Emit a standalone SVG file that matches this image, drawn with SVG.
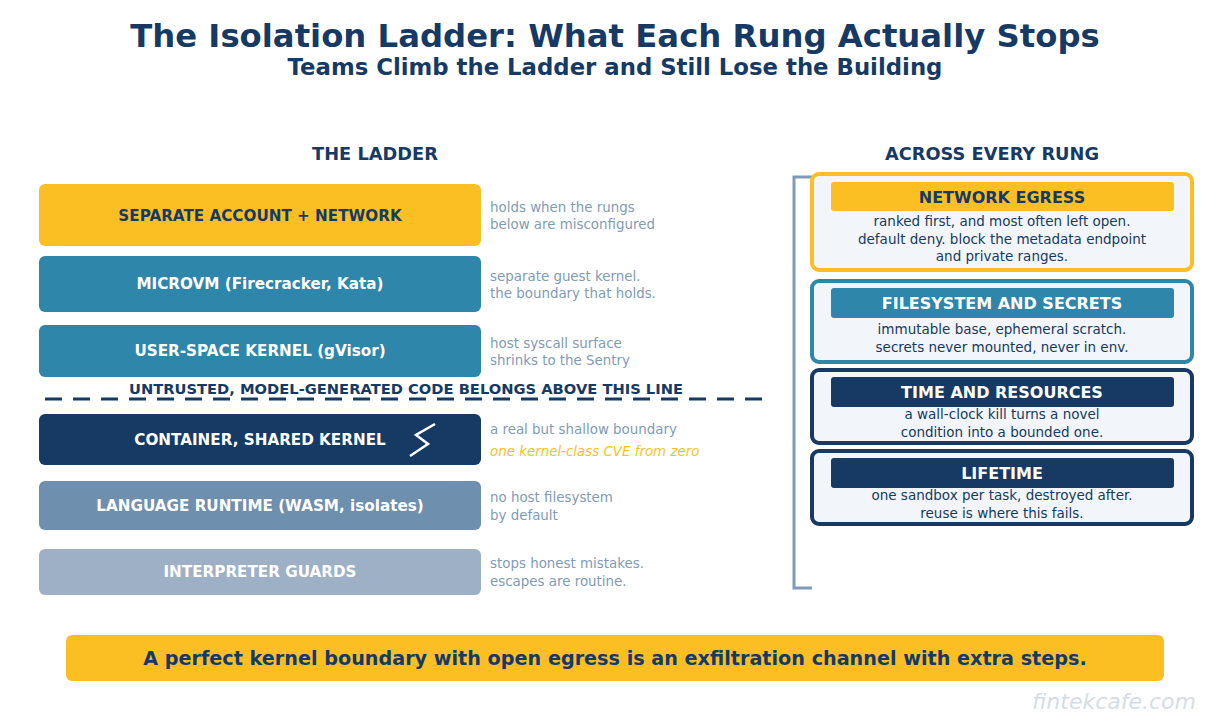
<svg xmlns="http://www.w3.org/2000/svg" width="1230" height="727" viewBox="0 0 1230 727">
<style>
text{font-family:"DejaVu Sans",sans-serif}
.t{fill:#163a63;font-weight:bold;text-anchor:middle}
.rl{font-size:15.2px;font-weight:bold;text-anchor:middle;fill:#fff}
.n{font-size:13.4px;fill:#7f9bb8}
.ph{font-size:16px;font-weight:bold;text-anchor:middle;fill:#fff}
.pb{font-size:13.5px;fill:#163a63;text-anchor:middle}
.panel{fill:#f2f5fa;stroke-width:4}
</style>
<rect width="1230" height="727" fill="#fff"/>
<text class="t" x="615" y="47" font-size="32.3">The Isolation Ladder: What Each Rung Actually Stops</text>
<text class="t" x="615" y="75" font-size="22.8">Teams Climb the Ladder and Still Lose the Building</text>
<text class="t" x="375" y="160" font-size="17.8">THE LADDER</text>
<text class="t" x="992" y="160" font-size="17.8">ACROSS EVERY RUNG</text>

<g id="rung1"><rect x="39" y="184" width="442" height="62" rx="6" fill="#fbbf24"/><text class="rl" x="260" y="221" style="fill:#163a63">SEPARATE ACCOUNT + NETWORK</text><text class="n" x="490" y="212">holds when the rungs</text><text class="n" x="490" y="229">below are misconfigured</text></g>
<g id="rung2"><rect x="39" y="256" width="442" height="56" rx="6" fill="#2e86ab"/><text class="rl" x="260" y="289">MICROVM (Firecracker, Kata)</text><text class="n" x="490" y="281">separate guest kernel.</text><text class="n" x="490" y="298">the boundary that holds.</text></g>
<g id="rung3"><rect x="39" y="325" width="442" height="52" rx="6" fill="#2e86ab"/><text class="rl" x="260" y="356">USER-SPACE KERNEL (gVisor)</text><text class="n" x="490" y="348">host syscall surface</text><text class="n" x="490" y="365">shrinks to the Sentry</text></g>
<g id="line"><text class="t" x="406" y="394" font-size="14.7">UNTRUSTED, MODEL-GENERATED CODE BELONGS ABOVE THIS LINE</text><line x1="45" y1="399" x2="770" y2="399" stroke="#163a63" stroke-width="3" stroke-dasharray="17,11"/></g>
<g id="rung4"><rect x="39" y="414" width="442" height="51" rx="6" fill="#163a63"/><text class="rl" x="260" y="445">CONTAINER, SHARED KERNEL</text><polyline points="435,424 416,435 428,444 410,456" fill="none" stroke="#fff" stroke-width="2.5"/><text class="n" x="490" y="434">a real but shallow boundary</text><text x="490" y="456" font-size="13.4" font-style="italic" fill="#fbbf24">one kernel-class CVE from zero</text></g>
<g id="rung5"><rect x="39" y="481" width="442" height="49" rx="6" fill="#6f8fae"/><text class="rl" x="260" y="511">LANGUAGE RUNTIME (WASM, isolates)</text><text class="n" x="490" y="502">no host filesystem</text><text class="n" x="490" y="520">by default</text></g>
<g id="rung6"><rect x="39" y="549" width="442" height="46" rx="6" fill="#9db0c6"/><text class="rl" x="260" y="577">INTERPRETER GUARDS</text><text class="n" x="490" y="568">stops honest mistakes.</text><text class="n" x="490" y="586">escapes are routine.</text></g>

<g id="bracket"><polyline points="812,177 794,177 794,588 812,588" fill="none" stroke="#7f9bb8" stroke-width="3"/></g>

<g id="p1"><rect class="panel" x="812" y="174" width="380" height="96" rx="7" stroke="#fbbf24"/><rect x="831" y="182" width="343" height="29" rx="3" fill="#fbbf24"/><text class="ph" x="1002" y="203" style="fill:#163a63">NETWORK EGRESS</text><text class="pb" x="1002" y="226">ranked first, and most often left open.</text><text class="pb" x="1002" y="244">default deny. block the metadata endpoint</text><text class="pb" x="1002" y="261">and private ranges.</text></g>
<g id="p2"><rect class="panel" x="812" y="281" width="380" height="81" rx="7" stroke="#2e86ab"/><rect x="831" y="288" width="343" height="30" rx="3" fill="#2e86ab"/><text class="ph" x="1002" y="309">FILESYSTEM AND SECRETS</text><text class="pb" x="1002" y="334">immutable base, ephemeral scratch.</text><text class="pb" x="1002" y="352">secrets never mounted, never in env.</text></g>
<g id="p3"><rect class="panel" x="812" y="370" width="380" height="73" rx="7" stroke="#163a63"/><rect x="831" y="377" width="343" height="30" rx="3" fill="#163a63"/><text class="ph" x="1002" y="398">TIME AND RESOURCES</text><text class="pb" x="1002" y="419">a wall-clock kill turns a novel</text><text class="pb" x="1002" y="437">condition into a bounded one.</text></g>
<g id="p4"><rect class="panel" x="812" y="451" width="380" height="73" rx="7" stroke="#163a63"/><rect x="831" y="458" width="343" height="30" rx="3" fill="#163a63"/><text class="ph" x="1002" y="479">LIFETIME</text><text class="pb" x="1002" y="500">one sandbox per task, destroyed after.</text><text class="pb" x="1002" y="518">reuse is where this fails.</text></g>

<g id="footer"><rect x="66" y="635" width="1098" height="46" rx="6" fill="#fbbf24"/><text class="t" x="615" y="665" font-size="19.2">A perfect kernel boundary with open egress is an exfiltration channel with extra steps.</text></g>
<text x="1196" y="709" font-size="22" font-style="italic" fill="#d5dde6" text-anchor="end">fintekcafe.com</text>
</svg>
